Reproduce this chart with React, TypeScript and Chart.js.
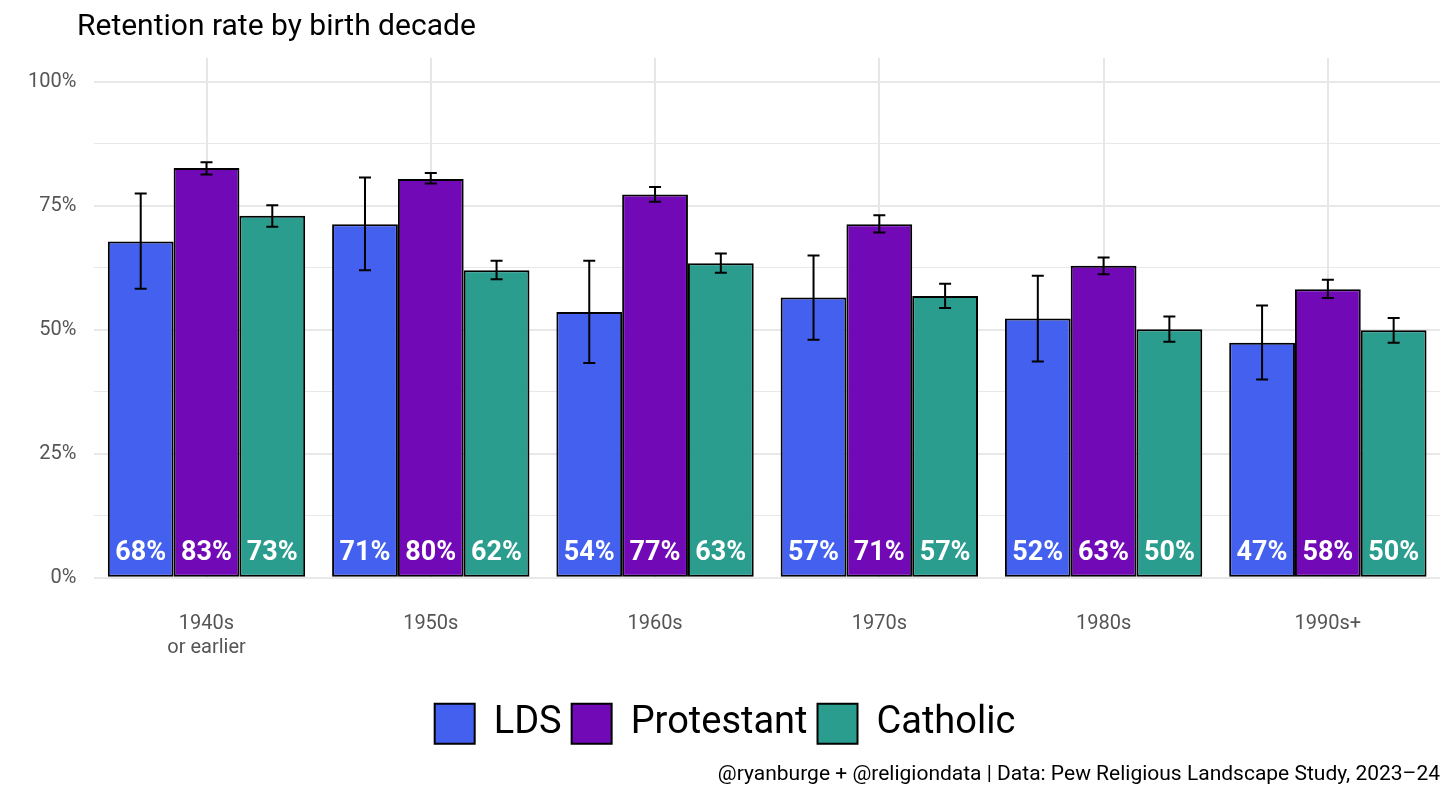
import React, { useEffect, useRef } from "react";
import { Chart, registerables } from "chart.js";
Chart.register(...registerables);

const categories: (string | string[])[] = [["1940s", "or earlier"], "1950s", "1960s", "1970s", "1980s", "1990s+"];
const seriesNames = ["LDS", "Protestant", "Catholic"];
const colors = ["#4361EE", "#7209B7", "#2A9D8F"];
const ldsValues = [67.8, 71.3, 53.6, 56.5, 52.3, 47.4];
const protValues = [82.6, 80.4, 77.3, 71.3, 62.9, 58.2];
const cathValues = [73.0, 62.0, 63.4, 56.8, 50.1, 49.9];
const ldsLow = [58.3, 62.0, 43.3, 48.0, 43.6, 40.0];
const ldsHigh = [77.5, 80.7, 63.9, 65.0, 60.9, 54.9];
const protLow = [81.3, 79.5, 75.8, 69.6, 61.2, 56.4];
const protHigh = [83.8, 81.6, 78.8, 73.1, 64.6, 60.1];
const cathLow = [70.8, 60.2, 61.5, 54.4, 47.6, 47.4];
const cathHigh = [75.1, 63.9, 65.4, 59.3, 52.7, 52.4];
const yTicks = [0, 12.5, 25, 37.5, 50, 62.5, 75, 87.5, 100];
const titleText = "Retention rate by birth decade";

const FONT = "Roboto, 'DejaVu Sans', sans-serif";

export default function App() {
  const ref = useRef<HTMLCanvasElement>(null);
  useEffect(() => {
    document.body.style.margin = "0";
    const values = [ldsValues, protValues, cathValues];
    const lows = [ldsLow, protLow, cathLow];
    const highs = [ldsHigh, protHigh, cathHigh];
    const overlay = {
      id: "overlay",
      afterDatasetsDraw(chart: any) {
        const ctx = chart.ctx;
        const y = chart.scales.y;
        ctx.save();
        values.forEach((_, di) => {
          const meta = chart.getDatasetMeta(di);
          meta.data.forEach((bar: any, i: number) => {
            const x = bar.x;
            const yl = y.getPixelForValue(lows[di][i]);
            const yh = y.getPixelForValue(highs[di][i]);
            ctx.strokeStyle = "#000";
            ctx.lineWidth = 2;
            ctx.beginPath();
            ctx.moveTo(x, yl); ctx.lineTo(x, yh);
            ctx.moveTo(x - 6, yl); ctx.lineTo(x + 6, yl);
            ctx.moveTo(x - 6, yh); ctx.lineTo(x + 6, yh);
            ctx.stroke();
            ctx.fillStyle = "#fff";
            ctx.font = `bold 27px ${FONT}`;
            ctx.textAlign = "center";
            ctx.textBaseline = "middle";
            ctx.fillText(Math.round(values[di][i]) + "%", x, y.getPixelForValue(0) - 25);
          });
        });
        ctx.fillStyle = "#000";
        ctx.font = `30px ${FONT}`;
        ctx.textAlign = "left";
        ctx.textBaseline = "middle";
        ctx.fillText(titleText, 77, 27);
        ctx.restore();
      },
    };
    const chart = new Chart(ref.current!, {
      type: "bar",
      data: {
        labels: categories,
        datasets: seriesNames.map((n, i) => ({
          label: n,
          data: values[i],
          backgroundColor: colors[i],
          borderColor: "#000",
          borderWidth: 2,
          borderSkipped: false,
          categoryPercentage: 0.88,
          barPercentage: 1,
        })),
      },
      options: {
        animation: false,
        responsive: false,
        layout: { padding: { left: 10, right: 16, top: 0, bottom: 22 } },
        plugins: {
          title: {
            display: true, text: titleText, align: "start",
            color: "rgba(0,0,0,0)", font: { family: FONT, size: 30, weight: "normal" },
            padding: { top: 8, bottom: 14 },
          },
          subtitle: {
            display: true, position: "bottom", align: "end",
            text: "@ryanburge + @religiondata | Data: Pew Religious Landscape Study, 2023\u201324",
            color: "#000", font: { family: FONT, size: 21 }, padding: { top: 8, bottom: 0 },
          },
          legend: {
            position: "bottom",
            labels: {
              color: "#000", font: { family: FONT, size: 38 }, boxWidth: 40, boxHeight: 40,
              padding: 10,
            },
          },
          tooltip: { enabled: false },
        },
        scales: {
          x: {
            grid: { color: "#e6e6e6", lineWidth: 2, offset: false, drawTicks: false },
            border: { display: false },
            ticks: { color: "#555", font: { family: FONT, size: 20 }, padding: 34 },
          },
          y: {
            min: 0, max: 104.8,
            afterBuildTicks: (s: any) => { s.ticks = yTicks.map((v) => ({ value: v })); },
            grid: { color: "#e8e8e8", lineWidth: (c: any) => (c.tick && c.tick.value % 25 === 0 ? 2 : 1), drawTicks: false },
            border: { display: false },
            ticks: {
              color: "#555", font: { family: FONT, size: 20 }, padding: 18,
              callback: (v: any) => (v % 25 === 0 ? v + "%" : ""),
            },
          },
        },
      },
      plugins: [overlay],
    });
    return () => chart.destroy();
  }, []);
  return <canvas ref={ref} width={1456} height={809} style={{ display: "block" }} />;
}
